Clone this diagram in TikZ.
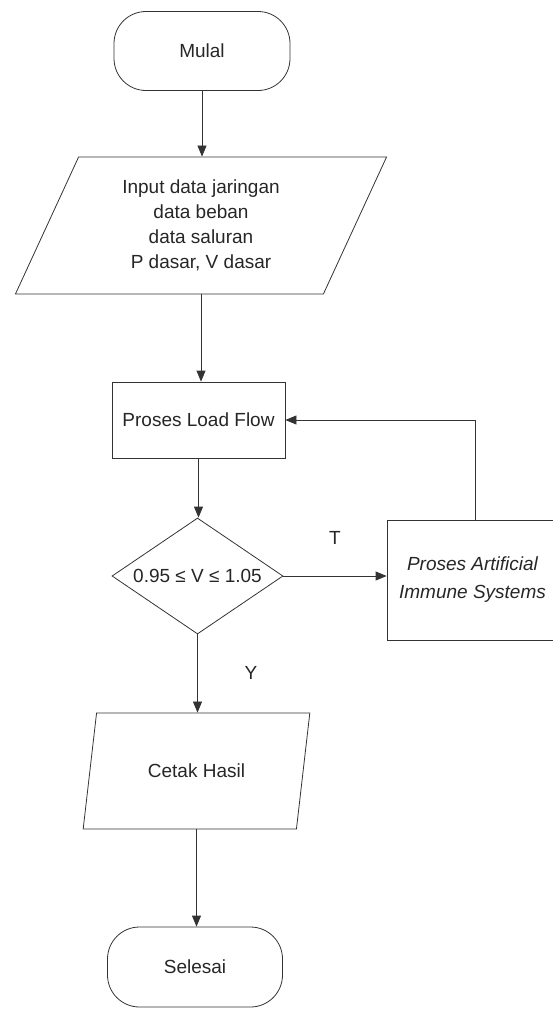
\documentclass[tikz,border=0pt]{standalone}
\usepackage{fontspec}
\setmainfont{Liberation Sans}
\usetikzlibrary{shapes.geometric,arrows.meta,calc}
\begin{document}
\begin{tikzpicture}[x=1pt,y=-1pt,
  every node/.style={font=\fontsize{19}{25}\selectfont, text=black!85},
  line/.style={draw=black!80, line width=0.8pt},
  arr/.style={line, -{Triangle[length=11pt,width=9pt]}},
  term/.style={line, rectangle, rounded corners=32pt, minimum width=176pt, minimum height=79pt},
  proc/.style={line, rectangle, inner sep=0pt},
  io/.style={line, trapezium, trapezium stretches=true, inner sep=0pt},
  dec/.style={line, diamond, inner sep=0pt, aspect=1.47},
  lbl/.style={inner sep=0pt}
]
\useasboundingbox (0,0) rectangle (552,1009);

\node[term] (start) at (202,51) {Mulal};
\node[io, trapezium left angle=66, trapezium right angle=114,
      minimum width=372pt, minimum height=137pt, align=center] (input) at (201,225.5)
  {Input data jaringan\\data beban\\data saluran\\P dasar, V dasar};
\node[proc, minimum width=173pt, minimum height=76pt] (proses) at (198.5,420) {Proses Load Flow};
\node[dec, minimum width=171pt, minimum height=116pt] (cek) at (197.5,576) {0.95 ≤ V ≤ 1.05};
\node[proc, minimum width=171pt, minimum height=120pt, align=center,
      font=\fontsize{19}{28}\selectfont\itshape] (ais) at (472.5,580)
  {Proses Artificial\\Immune Systems};
\node[io, trapezium left angle=65, trapezium right angle=115,
      minimum width=227pt, minimum height=116pt] (cetak) at (196.5,771) {Cetak Hasil};
\node[term, minimum width=175pt, minimum height=80pt] (selesai) at (195,967) {Selesai};

\coordinate (fb) at (475,422);

\draw[arr] (start.south) -- (start.south |- input.north);
\draw[arr] (input.south) -- (input.south |- proses.north);
\draw[arr] (proses.south) -- (proses.south |- cek.north);
\draw[arr] (cek.east) -- (ais.west |- cek.east);
\draw[arr] (ais.north -| fb) |- (proses.east);
\draw[arr] (cek.south) -- (cek.south |- cetak.north);
\draw[arr] (cetak.south) -- (cetak.south |- selesai.north);

\node[lbl] (t) at (335,538) {T};
\node[lbl] (y) at (251,673) {Y};
\end{tikzpicture}
\end{document}
